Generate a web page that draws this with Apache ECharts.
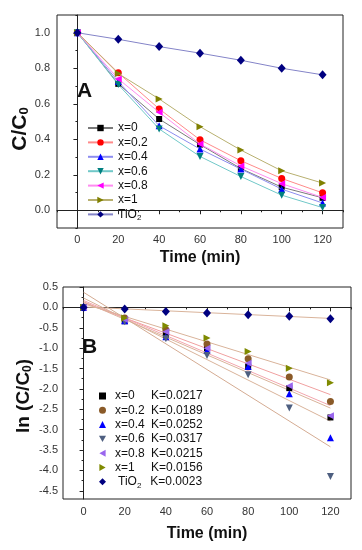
<!DOCTYPE html>
<html>
<head>
<meta charset="utf-8">
<script src="https://cdn.jsdelivr.net/npm/echarts@6/dist/echarts.min.js"></script>
<style>
html,body{margin:0;padding:0;background:#fff;}
#a,#b{width:362px;height:275px;}
</style>
</head>
<body>
<div id="a"></div>
<div id="b"></div>
<script>
// ---------- data ----------
const time = [0, 20, 40, 60, 80, 100, 120];
const names = ['x=0', 'x=0.2', 'x=0.4', 'x=0.6', 'x=0.8', 'x=1', 'TiO2'];

// Panel A: C/C0
const cA_x0   = [1.0, 0.712, 0.514, 0.370, 0.235, 0.130, 0.070];
const cA_x02  = [1.0, 0.774, 0.571, 0.397, 0.279, 0.179, 0.098];
const cA_x04  = [1.0, 0.725, 0.476, 0.345, 0.232, 0.119, 0.041];
const cA_x06  = [1.0, 0.708, 0.458, 0.303, 0.190, 0.085, 0.015];
const cA_x08  = [1.0, 0.740, 0.552, 0.373, 0.250, 0.150, 0.072];
const cA_x1   = [1.0, 0.770, 0.627, 0.471, 0.339, 0.222, 0.153];
const cA_tio2 = [1.0, 0.963, 0.922, 0.885, 0.845, 0.800, 0.763];

// Panel B: ln(C/C0)
const lnB_x0   = [0, -0.34, -0.67, -1.00, -1.45, -1.98, -2.70];
const lnB_x02  = [0, -0.26, -0.55, -0.90, -1.26, -1.71, -2.31];
const lnB_x04  = [0, -0.33, -0.72, -1.05, -1.45, -2.12, -3.20];
const lnB_x06  = [0, -0.35, -0.77, -1.18, -1.65, -2.47, -4.15];
const lnB_x08  = [0, -0.30, -0.60, -1.00, -1.37, -1.92, -2.66];
const lnB_x1   = [0, -0.26, -0.45, -0.75, -1.08, -1.49, -1.85];
const lnB_tio2 = [0, -0.04, -0.10, -0.14, -0.18, -0.22, -0.28];

// fitted lines (value at t=0 and t=120)
const fitTime  = [0, 120];
const fitStart = [0.14, 0.12, 0.23, 0.37, 0.17, 0.09, 0.01];
const fitEnd   = [-2.47, -2.14, -2.79, -3.42, -2.41, -1.78, -0.27];
const kValues  = ['0.0217', '0.0189', '0.0252', '0.0317', '0.0215', '0.0156', '0.0023'];

// ticks
const xMajor  = [0, 20, 40, 60, 80, 100, 120];
const xMinor  = [-10, 10, 30, 50, 70, 90, 110, 130];
const yAMajor = [0.0, 0.2, 0.4, 0.6, 0.8, 1.0];
const yAMinor = [-0.1, 0.1, 0.3, 0.5, 0.7, 0.9, 1.1];
const yBMajor = [0.5, 0.0, -0.5, -1.0, -1.5, -2.0, -2.5, -3.0, -3.5, -4.0, -4.5];
const yBMinor = [0.25, -0.25, -0.75, -1.25, -1.75, -2.25, -2.75, -3.25, -3.75, -4.25];

// ---------- styles ----------
const dataA = [cA_x0, cA_x02, cA_x04, cA_x06, cA_x08, cA_x1, cA_tio2];
const dataB = [lnB_x0, lnB_x02, lnB_x04, lnB_x06, lnB_x08, lnB_x1, lnB_tio2];
const symbols = [
  'rect', 'circle', 'triangle',
  'path://M0,0 L10,0 L5,9 Z',
  'path://M9,0 L9,10 L0,5 Z',
  'path://M0,0 L0,10 L9,5 Z',
  'diamond'
];
const markA = ['#000000', '#ff0000', '#0000ff', '#008080', '#ff00ff', '#808000', '#000080'];
const lineA = ['#7a7a7a', '#ff8a8a', '#8c8cf0', '#70c8c8', '#ff8cf0', '#b8b070', '#8484c8'];
const markB = ['#000000', '#8a5a28', '#0000ff', '#4e5f80', '#9a66ee', '#7f8a00', '#000080'];
const fitColors = ['#d9b39a', '#f0a0a0', '#d9b39a', '#d4ab92', '#f2a6ae', '#d9b39a', '#d9b39a'];
const axisColor = '#222';
const labelColor = '#333';
const FONT = 'Liberation Sans, Arial, sans-serif';

function pairs(xs, ys) { return xs.map((x, i) => [x, ys[i]]); }
function symSize(i) { return symbols[i] === 'rect' ? 6 : (symbols[i] === 'diamond' ? [8, 9] : 7); }

function axesX(margin, name, gap) {
  return [
    { type: 'value', position: 'bottom', min: -10, max: 130,
      axisLine: { show: true, lineStyle: { color: axisColor, width: 1 } },
      axisTick: { show: true, customValues: xMajor, length: 4, lineStyle: { color: axisColor } },
      axisLabel: { show: true, customValues: xMajor, margin: margin, fontSize: 11, color: labelColor, fontFamily: FONT },
      splitLine: { show: false },
      name: name, nameLocation: 'middle', nameGap: gap,
      nameTextStyle: { fontSize: 16, fontWeight: 'bold', color: '#111', fontFamily: FONT } },
    { type: 'value', position: 'bottom', min: -10, max: 130,
      axisLine: { show: false },
      axisTick: { show: true, customValues: xMinor, length: 2, lineStyle: { color: axisColor } },
      axisLabel: { show: false }, splitLine: { show: false } }
  ];
}

function axesY(min, max, major, minor, margin) {
  return [
    { type: 'value', position: 'left', min: min, max: max,
      axisLine: { show: true, lineStyle: { color: axisColor } },
      axisTick: { show: true, customValues: major, length: 4, lineStyle: { color: axisColor } },
      axisLabel: { show: true, customValues: major, margin: margin, fontSize: 11, color: labelColor, fontFamily: FONT,
                   formatter: v => v.toFixed(1) },
      splitLine: { show: false } },
    { type: 'value', position: 'left', min: min, max: max,
      axisLine: { show: false },
      axisTick: { show: true, customValues: minor, length: 2, lineStyle: { color: axisColor } },
      axisLabel: { show: false }, splitLine: { show: false } }
  ];
}

// ---------- Chart A ----------
const chartA = echarts.init(document.getElementById('a'), null, { renderer: 'canvas' });
const seriesA = names.map((n, i) => ({
  name: n, type: 'line', xAxisIndex: 0, yAxisIndex: 0,
  data: pairs(time, dataA[i]),
  symbol: symbols[i], symbolSize: symSize(i),
  itemStyle: { color: markA[i] },
  lineStyle: { color: lineA[i], width: 1 },
  animation: false, z: 2 + i
}));

chartA.setOption({
  animation: false,
  textStyle: { fontFamily: FONT },
  grid: { left: 57, top: 15, width: 286, height: 213, show: true, borderColor: axisColor, borderWidth: 1,
          backgroundColor: 'transparent', containLabel: false, outerBoundsMode: 'none' },
  xAxis: axesX(6, 'Time (min)', 22),
  yAxis: axesY(-0.1, 1.1, yAMajor, yAMinor, 7),
  legend: {
    orient: 'vertical', left: 82, top: 117, itemWidth: 25, itemHeight: 8, itemGap: 2.4,
    data: names,
    textStyle: { fontSize: 12, color: '#111', fontFamily: FONT,
      rich: { s: { fontSize: 8, color: '#111', padding: [7, 0, 0, 0] } } },
    formatter: n => n === 'TiO2' ? 'TiO{s|2}' : n
  },
  graphic: [
    { type: 'text', left: 77, top: 81, style: { text: 'A', fontSize: 21, fontWeight: 'bold', fill: '#111', fontFamily: FONT } },
    { type: 'text', x: 20, y: 129, rotation: Math.PI / 2,
      style: { text: 'C/C{s|0}', fontSize: 21, fontWeight: 'bold', fill: '#111', fontFamily: FONT,
               align: 'center', verticalAlign: 'middle',
               rich: { s: { fontSize: 13, fontWeight: 'bold', fill: '#111', padding: [9, 0, 0, 0] } } } }
  ],
  series: seriesA
});

// ---------- Chart B ----------
const chartB = echarts.init(document.getElementById('b'), null, { renderer: 'canvas' });
const seriesB = names.map((n, i) => ({
  name: n, type: 'scatter', xAxisIndex: 0, yAxisIndex: 0,
  data: pairs(time, dataB[i]),
  symbol: symbols[i], symbolSize: symSize(i),
  itemStyle: { color: markB[i], opacity: 1 },
  animation: false, z: 5 + i
}));
const fitSeries = names.map((n, i) => ({
  name: 'fit ' + n, type: 'line', xAxisIndex: 0, yAxisIndex: 0,
  data: [[fitTime[0], fitStart[i]], [fitTime[1], fitEnd[i]]],
  symbol: 'none', lineStyle: { color: fitColors[i], width: 1 },
  silent: true, animation: false, z: 3
}));

chartB.setOption({
  animation: false,
  textStyle: { fontFamily: FONT },
  grid: { left: 63, top: 12, width: 288, height: 212, show: true, borderColor: axisColor, borderWidth: 1,
          backgroundColor: 'transparent', containLabel: false, outerBoundsMode: 'none' },
  xAxis: axesX(7, 'Time (min)', 27),
  yAxis: axesY(-4.7, 0.5, yBMajor, yBMinor, 5),
  legend: {
    orient: 'vertical', left: 94, top: 110, itemWidth: 7, itemHeight: 7, itemGap: 2.3,
    data: names,
    textStyle: { fontSize: 12, color: '#111', fontFamily: FONT,
      rich: {
        a: { fontSize: 12, color: '#111', width: 36, padding: [0, 0, 0, 4] },
        t: { fontSize: 12, color: '#111', padding: [0, 0, 0, 7] },
        s: { fontSize: 8, color: '#111', padding: [7, 0, 0, 0] },
        k: { fontSize: 12, color: '#111' },
        k2: { fontSize: 12, color: '#111', padding: [0, 0, 0, 9] }
      } },
    formatter: n => {
      const i = names.indexOf(n);
      if (n === 'TiO2') return '{t|TiO}{s|2}{k2|K=' + kValues[i] + '}';
      return '{a|' + n + '}{k|K=' + kValues[i] + '}';
    }
  },
  graphic: [
    { type: 'text', left: 82, top: 62, style: { text: 'B', fontSize: 21, fontWeight: 'bold', fill: '#111', fontFamily: FONT } },
    { type: 'text', x: 24, y: 121, rotation: Math.PI / 2,
      style: { text: 'ln (C/C{s|0})', fontSize: 19, fontWeight: 'bold', fill: '#111', fontFamily: FONT,
               align: 'center', verticalAlign: 'middle',
               rich: { s: { fontSize: 12, fontWeight: 'bold', fill: '#111', padding: [8, 0, 0, 0] } } } }
  ],
  series: fitSeries.concat(seriesB)
});
</script>
</body>
</html>
